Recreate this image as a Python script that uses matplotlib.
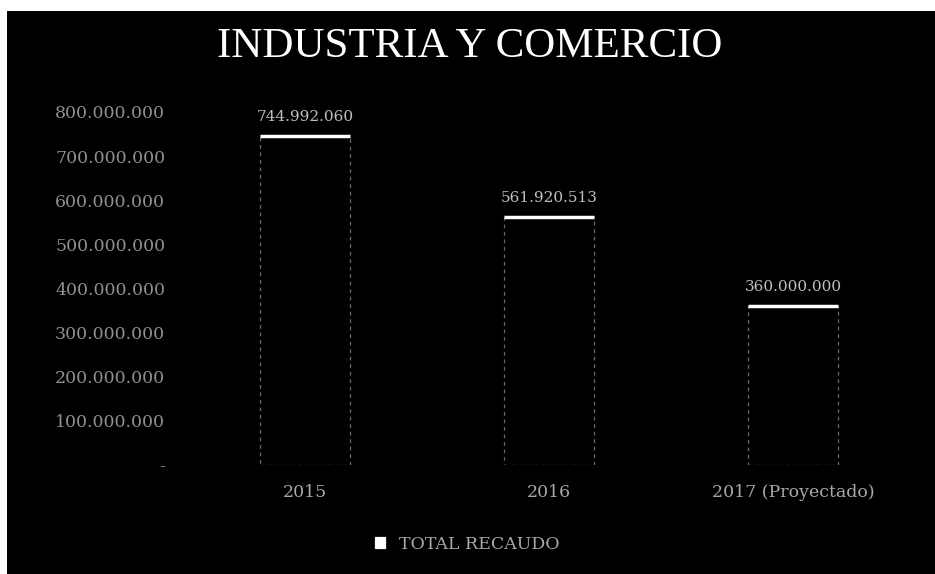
import matplotlib.pyplot as plt
from matplotlib.patches import Rectangle

# data
categories = ['2015', '2016', '2017 (Proyectado)']
recaudo = [744992060, 561920513, 360000000]
yticks = [0, 100000000, 200000000, 300000000, 400000000,
          500000000, 600000000, 700000000, 800000000]
series_name = 'TOTAL RECAUDO'
title = 'INDUSTRIA Y COMERCIO'


def fmt(v):
    if v == 0:
        return '-'
    return f'{v:,.0f}'.replace(',', '.')


plt.rcParams['font.family'] = ['DejaVu Serif']

fig = plt.figure(figsize=(9.35, 5.74), dpi=100, facecolor='black')
# scanned white margins on the top and left
fig.patches.append(Rectangle((0, 0.981), 1, 0.019, transform=fig.transFigure,
                             facecolor='white', edgecolor='none', zorder=0))
fig.patches.append(Rectangle((0, 0), 0.0075, 1, transform=fig.transFigure,
                             facecolor='white', edgecolor='none', zorder=0))

ax = fig.add_axes([0.196, 0.19, 0.783, 0.615])
ax.set_facecolor('black')

x = range(len(categories))
bars = ax.bar(x, recaudo, width=0.37, color='black', edgecolor='#6a6a6a',
              linewidth=0.9, linestyle=(0, (3, 3)), label=series_name)
for b in bars:
    ax.hlines(b.get_height(), b.get_x(), b.get_x() + b.get_width(),
              color='white', linewidth=2.5)
    ax.text(b.get_x() + b.get_width() / 2, b.get_height() + 28000000,
            fmt(b.get_height()), ha='center', va='bottom',
            color='#c0c0c0', fontsize=11)

ax.set_xlim(-0.5, 2.5)
ax.set_ylim(0, 800000000)
ax.set_yticks(yticks)
ax.set_yticklabels([fmt(v) for v in yticks])
ax.set_xticks(list(x))
ax.set_xticklabels(categories)
ax.tick_params(axis='y', colors='#909090', labelsize=12.5, length=0, pad=13)
ax.tick_params(axis='x', colors='#a8a8a8', labelsize=12.5, length=0, pad=14)
for s in ax.spines.values():
    s.set_visible(False)

fig.text(0.502, 0.918, title, ha='center', va='center', color='white',
         fontsize=31, family=['Liberation Serif'])

leg = fig.legend(loc='center', bbox_to_anchor=(0.5, 0.052), frameon=False,
                 handlelength=0.6, handleheight=0.6, fontsize=12.5,
                 labelcolor='#a8a8a8', handletextpad=0.8)
for h in leg.legend_handles:
    h.set_facecolor('white')
    h.set_edgecolor('white')
    h.set_linestyle('-')

fig.savefig('out.png', dpi=100, facecolor='black')
